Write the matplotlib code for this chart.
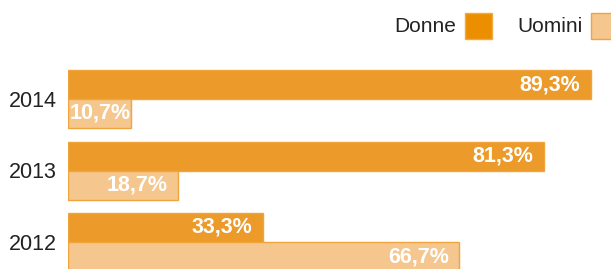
import matplotlib
matplotlib.use("Agg")
import matplotlib.pyplot as plt
from matplotlib.patches import Rectangle

# dati
anni = ["2014", "2013", "2012"]
donne = [89.3, 81.3, 33.3]
uomini = [10.7, 18.7, 66.7]
serie = ["Donne", "Uomini"]

col_donne = "#EC9A29"
col_uomini = "#F5C78E"
bordo = "#F0A53C"

W, H = 611, 269
px_per_pct = 5.857
fig = plt.figure(figsize=(W / 100, H / 100), dpi=100)
plt.rcParams['font.family'] = ['Liberation Sans', 'DejaVu Sans']

# asse: da x=68 px fino al bordo destro
ax = fig.add_axes([68 / W, 0, 1 - 68 / W, 1])
ax.set_xlim(0, (W - 68) / px_per_pct)
ax.set_ylim((H - 99) / 71.5, -99 / 71.5)
ax.axis("off")

h = 29 / 71.5
pos = list(range(len(anni)))
yd = [p - h / 2 for p in pos]
yu = [p + h / 2 for p in pos]

ax.barh(yd, donne, height=h, color=col_donne, edgecolor=bordo, linewidth=1)
ax.barh(yu, uomini, height=h, color=col_uomini, edgecolor=bordo, linewidth=1)

def etichetta(v):
    return f"{v:.1f}%".replace(".", ",")

def scrivi(v, y, pad):
    if v * px_per_pct < 80:
        # barra corta: etichetta dall'inizio della barra
        ax.annotate(etichetta(v), (0, y), xytext=(1, 0), textcoords="offset points",
                    ha="left", va="center", color="white", fontsize=15.5, fontweight="bold")
    else:
        ax.annotate(etichetta(v), (v, y), xytext=(pad, 0), textcoords="offset points",
                    ha="right", va="center", color="white", fontsize=15.5, fontweight="bold")

for y, v in zip(yd, donne):
    scrivi(v, y, -8)
for y, v in zip(yu, uomini):
    scrivi(v, y, -7)

for p, a in zip(pos, anni):
    ax.annotate(a, (0, p), xytext=(-8, -1.5), textcoords="offset points",
                ha="right", va="center", color="#222222", fontsize=15.5)

# legenda manuale
fig.text(456 / W, 1 - 26 / H, serie[0], ha="right", va="center", fontsize=15, color="#222222")
fig.patches.append(Rectangle((465 / W, 1 - 39 / H), 27 / W, 26 / H, transform=fig.transFigure,
                             facecolor="#EB8F00", edgecolor="#F3A940", linewidth=1))
fig.text(583 / W, 1 - 26 / H, serie[1], ha="right", va="center", fontsize=15, color="#222222")
fig.patches.append(Rectangle((591 / W, 1 - 39 / H), 27 / W, 26 / H, transform=fig.transFigure,
                             facecolor=col_uomini, edgecolor="#EFA345", linewidth=1))

fig.savefig("out.png", dpi=100)
